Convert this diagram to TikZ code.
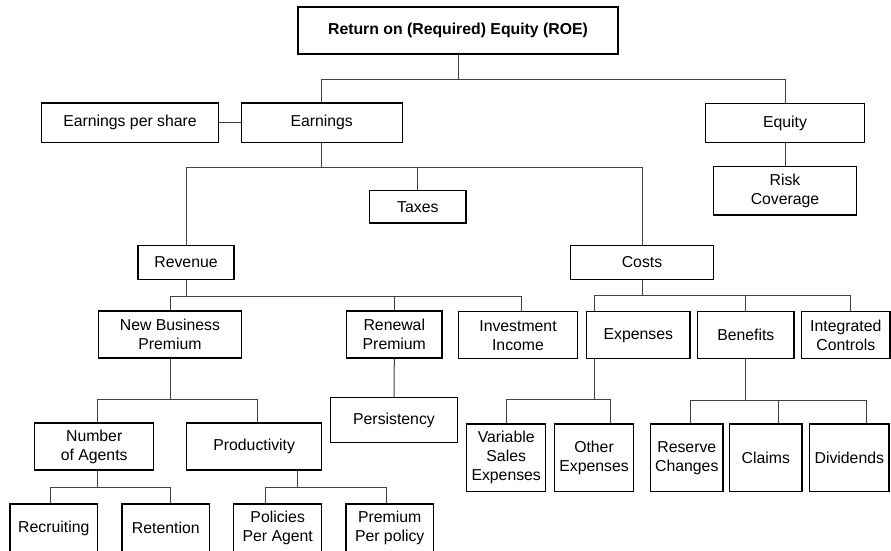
\documentclass[tikz,border=0pt]{standalone}
\usepackage{fontspec}
\setmainfont{Liberation Sans}
\usepackage{tikz}
\usepackage{xcolor}
\definecolor{linegray}{RGB}{64,64,64}

\begin{document}
\begin{tikzpicture}[x=1pt,y=-1pt,
          box/.style 2 args={draw,line width=1.3pt,inner sep=0pt,align=center,
                      minimum width=#1,minimum height=#2,
                      font=\fontsize{15.8}{19}\selectfont},
          link/.style={draw=linegray,line width=1pt}]
        \clip (0,0) rectangle (891,550);
        \node[box={320pt}{47pt}](roe) at (458,30.5) {\textbf{Return on (Required) Equity (ROE)}};
        \node[box={177pt}{39.5pt}](eps) at (130,122.7) {Earnings per share};
        \node[box={161pt}{39.5pt}](earn) at (321.7,122.7) {Earnings};
        \node[box={158.6pt}{39pt}](equity) at (785,123.3) {Equity};
        \node[box={143.4pt}{48.3pt}](risk) at (785,190.8) {Risk\\Coverage};
        \node[box={96.3pt}{32.3pt}](taxes) at (417.8,206.8) {Taxes};
        \node[box={96pt}{33.6pt}](rev) at (186,262.5) {Revenue};
        \node[box={142.6pt}{33.6pt}](costs) at (642,262.5) {Costs};
        \node[box={142.6pt}{47pt}](nbp) at (170,334.5) {New Business\\Premium};
        \node[box={95.3pt}{47pt}](renew) at (394.3,334.5) {Renewal\\Premium};
        \node[box={118.6pt}{47pt}](inv) at (518,335.3) {Investment\\Income};
        \node[box={103.3pt}{47pt}](exp) at (638.3,335.3) {Expenses};
        \node[box={96.3pt}{47pt}](ben) at (745.8,335.3) {Benefits};
        \node[box={88.5pt}{47pt}](integ) at (845.8,335.3) {Integrated\\Controls};
        \node[box={126.6pt}{45pt}](pers) at (394,420.2) {Persistency};
        \node[box={119pt}{47pt}](agents) at (94.2,446.5) {Number\\of Agents};
        \node[box={135pt}{47pt}](prod) at (254.2,446.5) {Productivity};
        \node[box={79pt}{67.7pt}](varexp) at (506.2,457.8) {Variable\\Sales\\Expenses};
        \node[box={78.6pt}{67.7pt}](othexp) at (594,457.8) {Other\\Expenses};
        \node[box={72.3pt}{67.7pt}](reserve) at (686.8,457.8) {Reserve\\Changes};
        \node[box={72.3pt}{67.7pt}](claims) at (765.8,457.8) {Claims};
        \node[box={79.3pt}{67.7pt}](divid) at (849.3,457.8) {Dividends};
        \node[box={87.7pt}{48pt}](recruit) at (53.8,528) {Recruiting};
        \node[box={87.7pt}{48pt}](retain) at (165.8,528) {Retention};
        \node[box={88pt}{48pt}](polagent) at (277.7,528) {Policies\\Per Agent};
        \node[box={87.3pt}{48pt}](prempol) at (389.7,528) {Premium\\Per policy};

        \draw[link] (roe.south) -- ++(0,24.7) coordinate (j1);
        \draw[link] (j1) -| (earn.north);
        \draw[link] (j1) -| (equity.north);
        \draw[link] (eps.east) -- (earn.west);
        \draw[link] (equity.south) -- (risk.north);
        \draw[link] (earn.south) -- ++(0,24.2) coordinate (j2);
        \draw[link] (j2) -| (rev.north);
        \draw[link] (j2) -| (taxes.north);
        \draw[link] (j2) -| (costs.north);
        \draw[link] (rev.south) -- ++(0,16.4) coordinate (j3);
        \draw[link] (j3) -| (nbp.north);
        \draw[link] (j3) -| (renew.north);
        \draw[link] (j3) -| ([xshift=3.7pt]inv.north);
        \draw[link] (costs.south) -- ++(0,15.7) coordinate (j4);
        \draw[link] (j4) -| ([xshift=-44.3pt]exp.north);
        \draw[link] (j4) -| (ben.north);
        \draw[link] (j4) -| ([xshift=4.2pt]integ.north);
        \draw[link] (renew.south) -- (pers.north);
        \draw[link] (nbp.south) -- ++(0,41) coordinate (j5);
        \draw[link] (j5) -| ([xshift=3.5pt]agents.north);
        \draw[link] (j5) -| ([xshift=3.5pt]prod.north);
        \draw[link] ([xshift=3.5pt]agents.south) -- ++(0,17.3) coordinate (j6);
        \draw[link] (j6) -| ([xshift=-3.8pt]recruit.north);
        \draw[link] (j6) -| ([xshift=4.2pt]retain.north);
        \draw[link] ([xshift=43.5pt]prod.south) -- ++(0,17.3) coordinate (j7);
        \draw[link] (j7) -| ([xshift=-12pt]polagent.north);
        \draw[link] (j7) -| ([xshift=-3.7pt]prempol.north);
        \draw[link] ([xshift=-44.3pt]exp.south) -- ++(0,40) coordinate (j8);
        \draw[link] (j8) -| (varexp.north);
        \draw[link] (j8) -| ([xshift=16pt]othexp.north);
        \draw[link] (ben.south) -- ++(0,40.7) coordinate (j9);
        \draw[link] (j9) -| ([xshift=3.2pt]reserve.north);
        \draw[link] (j9) -| ([xshift=12.5pt]claims.north);
        \draw[link] (j9) -| ([xshift=16.7pt]divid.north);
      \end{tikzpicture}
\end{document}
